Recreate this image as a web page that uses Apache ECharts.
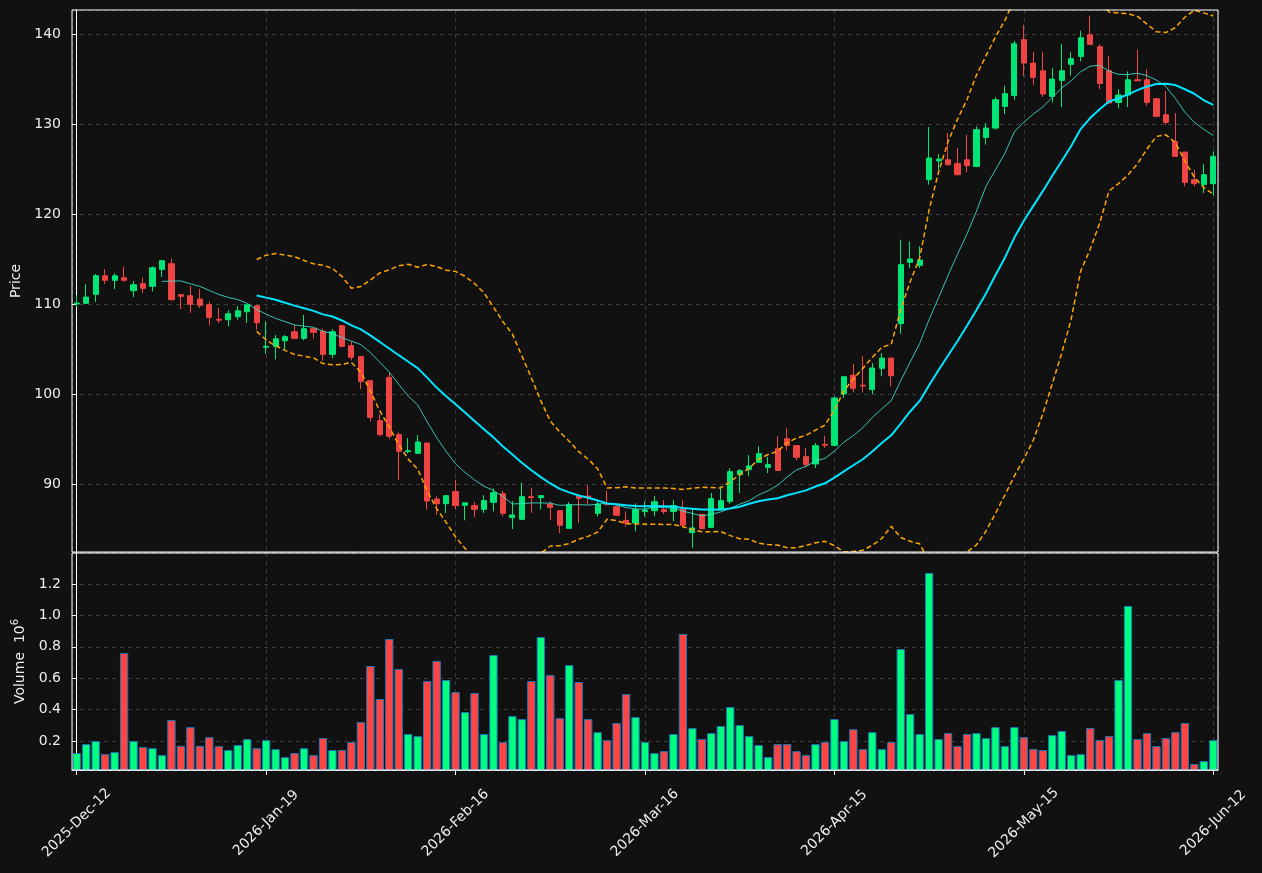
<!DOCTYPE html>
<html>
<head>
<meta charset="utf-8">
<title>Price and Volume</title>
<script src="https://cdn.jsdelivr.net/npm/echarts@6/dist/echarts.min.js"></script>
<style>
    html, body { margin: 0; padding: 0; background: #111111; }
    #market-chart { width: 1262px; height: 873px; }
</style>
</head>
<body>
<div id="market-chart"></div>
<script>
(function (w) {
    "use strict";

    // trading days, grouped by month
    var dayGroups = [
        ['2025-Dec', [12, 15, 16, 17, 18, 19, 22, 23, 29, 30]],
        ['2026-Jan', [5, 6, 7, 8, 9, 12, 13, 14, 15, 16, 19, 20, 21, 22, 23, 26, 27, 28, 29, 30]],
        ['2026-Feb', [2, 3, 4, 5, 6, 9, 10, 11, 12, 13, 16, 17, 18, 19, 20, 23, 24, 25, 26, 27]],
        ['2026-Mar', [2, 3, 4, 5, 6, 9, 10, 11, 12, 13, 16, 17, 18, 19, 20, 23, 24, 25, 26, 27, 30, 31]],
        ['2026-Apr', [1, 2, 7, 8, 9, 10, 13, 14, 15, 16, 17, 20, 21, 22, 23, 24, 27, 28, 29, 30]],
        ['2026-May', [4, 5, 6, 7, 8, 11, 12, 13, 15, 18, 19, 20, 21, 22, 25, 26, 27, 28, 29]],
        ['2026-Jun', [1, 2, 3, 4, 5, 8, 9, 10, 11, 12]]
    ];

    var opens = [
        110.0, 110.07, 111.07, 113.14, 112.63, 112.92, 111.48, 112.26, 111.96, 113.85,
        114.48, 111.03, 110.92, 110.55, 109.92, 108.3, 108.26, 108.59, 109.14, 109.81,
        105.2, 105.29, 105.92, 106.92, 106.18, 107.26, 106.96, 104.4, 107.59, 105.37,
        104.15, 101.48, 97.03, 101.85, 95.48, 93.6, 93.4, 94.55, 88.33, 87.81,
        89.15, 87.63, 87.59, 87.18, 87.96, 88.92, 86.26, 86.07, 88.59, 88.48,
        87.77, 87.03, 85.07, 88.66, 88.66, 86.74, 87.8, 87.48, 85.96, 85.66,
        86.93, 87.03, 87.15, 86.93, 87.22, 84.59, 86.63, 85.18, 87.22, 88.07,
        91.03, 91.6, 92.4, 91.85, 93.92, 95.03, 94.26, 93.03, 92.22, 94.4,
        94.29, 100.0, 102.1, 100.98, 100.48, 102.85, 103.99, 107.81, 114.63, 114.29,
        123.81, 125.9, 126.03, 125.6, 126.03, 125.29, 128.51, 129.55, 131.96, 133.18,
        139.37, 136.77, 135.92, 133.07, 134.85, 136.63, 137.51, 139.92, 138.59, 135.92,
        132.4, 133.22, 134.92, 134.92, 132.81, 131.03, 128.07, 126.88, 123.81, 123.29,
        123.37
    ];
    var highs = [
        110.96, 112.2, 113.33, 113.89, 113.4, 114.14, 112.55, 112.92, 114.18, 114.9,
        115.03, 111.1, 111.99, 111.66, 110.29, 109.55, 109.29, 109.81, 109.92, 109.9,
        108.07, 106.55, 106.55, 107.7, 108.78, 107.3, 107.26, 107.18, 107.6, 105.85,
        104.2, 101.5, 97.7, 102.33, 95.74, 95.1, 95.44, 94.6, 88.63, 88.75,
        90.48, 87.9, 88.0, 88.74, 89.5, 89.26, 88.1, 90.15, 89.59, 88.75,
        88.07, 87.1, 88.0, 88.8, 89.85, 88.07, 89.26, 87.5, 86.96, 87.85,
        88.07, 88.66, 88.2, 88.2, 88.2, 87.15, 86.65, 89.0, 89.74, 91.74,
        91.66, 93.2, 94.2, 93.0, 95.3, 96.2, 94.3, 94.0, 94.55, 95.37,
        99.74, 101.92, 103.33, 104.18, 103.44, 104.55, 104.0, 117.15, 116.96, 116.4,
        129.66, 126.66, 129.0, 127.33, 128.81, 129.74, 130.1, 132.96, 134.25, 139.25,
        141.03, 137.99, 137.99, 136.22, 138.92, 137.99, 140.37, 142.03, 138.88, 137.59,
        133.88, 135.85, 138.26, 136.1, 132.85, 133.63, 131.22, 126.9, 124.92, 125.55,
        126.96
    ];
    var lows = [
        109.66, 110.0, 110.22, 112.22, 111.66, 112.48, 110.77, 111.22, 111.4, 113.0,
        110.4, 109.44, 109.0, 109.55, 107.63, 107.9, 107.51, 108.26, 107.9, 107.14,
        104.48, 103.85, 104.9, 106.1, 105.96, 106.18, 103.7, 104.0, 105.2, 103.74,
        100.55, 96.96, 95.3, 95.0, 90.44, 93.4, 93.4, 87.14, 86.59, 86.77,
        87.2, 85.96, 86.33, 86.78, 86.96, 86.4, 85.0, 86.0, 86.78, 87.15,
        86.0, 84.55, 85.0, 85.66, 87.7, 86.37, 87.7, 86.5, 85.3, 84.74,
        86.4, 86.4, 86.66, 85.85, 85.4, 82.9, 85.0, 85.1, 87.2, 87.8,
        89.0, 90.85, 92.4, 91.2, 91.5, 93.74, 92.63, 91.9, 91.78, 94.0,
        94.2, 99.55, 100.18, 100.18, 100.0, 101.96, 100.85, 106.7, 113.99, 113.99,
        123.26, 124.92, 125.4, 124.3, 124.63, 125.2, 127.7, 129.37, 131.1, 132.7,
        135.29, 134.37, 133.0, 132.4, 131.88, 135.4, 136.96, 138.8, 133.88, 132.3,
        131.74, 131.88, 134.8, 132.03, 130.8, 129.92, 126.4, 123.07, 123.07, 122.33,
        122.07
    ];
    var closes = [
        110.1, 110.77, 113.14, 112.63, 113.14, 112.63, 112.14, 111.74, 114.03, 114.81,
        110.48, 110.85, 109.96, 109.85, 108.51, 108.2, 108.92, 109.25, 109.92, 107.92,
        105.3, 106.14, 106.37, 106.18, 107.26, 106.85, 104.4, 106.92, 105.29, 104.07,
        101.4, 97.4, 95.48, 95.3, 93.63, 93.7, 94.66, 88.11, 87.81, 88.7,
        87.59, 87.9, 87.18, 88.15, 89.03, 86.74, 86.56, 88.59, 88.48, 88.7,
        87.4, 85.41, 87.7, 88.4, 88.55, 87.77, 87.7, 86.52, 85.66, 87.15,
        87.1, 88.03, 86.93, 87.59, 85.41, 85.11, 85.03, 88.37, 88.15, 91.37,
        91.48, 92.0, 93.37, 92.15, 91.5, 94.29, 92.96, 92.15, 94.26, 94.3,
        99.55, 101.92, 100.63, 100.88, 102.89, 103.99, 102.03, 114.37, 115.0, 114.89,
        126.22, 126.1, 125.48, 124.37, 125.37, 129.37, 129.55, 132.7, 133.37, 138.92,
        136.77, 135.18, 133.33, 134.99, 135.92, 137.26, 139.59, 138.85, 134.51, 132.33,
        133.22, 134.92, 134.81, 132.4, 130.85, 130.18, 126.4, 123.51, 123.37, 124.37,
        126.4
    ];
    // volume in millions
    var volumes = [
        0.124, 0.181, 0.2, 0.117, 0.13, 0.761, 0.2, 0.162, 0.155, 0.111,
        0.334, 0.17, 0.289, 0.17, 0.225, 0.168, 0.143, 0.175, 0.213, 0.155,
        0.206, 0.149, 0.098, 0.124, 0.155, 0.111, 0.219, 0.143, 0.143, 0.194,
        0.321, 0.678, 0.468, 0.85, 0.659, 0.245, 0.232, 0.582, 0.71, 0.589,
        0.512, 0.385, 0.506, 0.245, 0.748, 0.194, 0.359, 0.34, 0.582, 0.862,
        0.62, 0.346, 0.684, 0.576, 0.34, 0.257, 0.206, 0.315, 0.499, 0.353,
        0.194, 0.124, 0.136, 0.245, 0.882, 0.283, 0.213, 0.251, 0.296, 0.417,
        0.302, 0.232, 0.175, 0.098, 0.181, 0.181, 0.136, 0.111, 0.181, 0.194,
        0.34, 0.2, 0.276, 0.149, 0.257, 0.149, 0.194, 0.786, 0.372, 0.245,
        1.27, 0.213, 0.251, 0.168, 0.245, 0.251, 0.219, 0.289, 0.168, 0.289,
        0.225, 0.149, 0.143, 0.238, 0.264, 0.111, 0.117, 0.283, 0.206, 0.232,
        0.589, 1.06, 0.213, 0.251, 0.168, 0.219, 0.257, 0.315, 0.054, 0.073,
        0.206
    ];

    var labelEvery = 20;
    var upColor = '#00e676', downColor = '#ef4444';
    var volUpColor = '#00ff7f', volDownColor = '#ff4444';
    var textColor = '#eeeeee';
    var gridLineStyle = { color: '#3a3a3a', type: [4, 4], width: 1 };

    var dates = [];
    dayGroups.forEach(function (g) {
        g[1].forEach(function (d) {
            dates.push(g[0] + '-' + (d < 10 ? '0' + d : d));
        });
    });

    function movingAverage(values, n) {
        var out = [];
        for (var i = 0; i < values.length; i++) {
            if (i < n - 1) { out.push('-'); continue; }
            var s = 0;
            for (var j = i - n + 1; j <= i; j++) s += values[j];
            out.push(+(s / n).toFixed(3));
        }
        return out;
    }

    function bollinger(values, n, k) {
        var mid = movingAverage(values, n), upper = [], lower = [];
        for (var i = 0; i < values.length; i++) {
            if (i < n - 1) { upper.push('-'); lower.push('-'); continue; }
            var ss = 0;
            for (var j = i - n + 1; j <= i; j++) ss += Math.pow(values[j] - mid[i], 2);
            var sd = Math.sqrt(ss / (n - 1));
            upper.push(+(mid[i] + k * sd).toFixed(3));
            lower.push(+(mid[i] - k * sd).toFixed(3));
        }
        return { upper: upper, lower: lower };
    }

    var candles = dates.map(function (d, i) {
        return [opens[i], closes[i], lows[i], highs[i]];
    });
    var volumeBars = volumes.map(function (v, i) {
        return { value: v, itemStyle: { color: closes[i] >= opens[i] ? volUpColor : volDownColor } };
    });
    var ma10 = movingAverage(closes, 10);
    var ma20 = movingAverage(closes, 20);
    var bands = bollinger(closes, 20, 2);

    var everyNth = function (idx) { return idx % labelEvery === 0; };

    function gridOverlayAxis(gridIndex) {
        // hidden value axis only used for the vertical grid lines at the labelled days
        return {
            type: 'value', gridIndex: gridIndex,
            min: -0.5, max: dates.length - 0.5, splitNumber: 6,
            axisLine: { show: false }, axisTick: { show: false }, axisLabel: { show: false },
            splitLine: { show: true, lineStyle: gridLineStyle }
        };
    }

    var chart = echarts.init(document.getElementById('market-chart'));
    var option = {
        backgroundColor: '#111111',
        animation: false,
        textStyle: { fontFamily: 'DejaVu Sans' },
        grid: [
            { left: 72, right: 44, top: 10, height: 542, show: true, z: 5, borderColor: '#ffffff', borderWidth: 1, outerBoundsMode: 'none' },
            { left: 72, right: 44, top: 553, height: 217, show: true, z: 5, borderColor: '#ffffff', borderWidth: 1, outerBoundsMode: 'none' }
        ],
        xAxis: [
            {
                type: 'category', gridIndex: 0, data: dates, boundaryGap: true,
                axisLine: { show: false }, axisTick: { show: false }, axisLabel: { show: false },
                splitLine: { show: false }
            },
            {
                type: 'category', gridIndex: 1, data: dates, boundaryGap: true,
                axisLine: { show: true, lineStyle: { color: '#ffffff' } },
                axisTick: { show: true, alignWithLabel: true, interval: everyNth, length: 5, lineStyle: { color: '#ffffff' } },
                axisLabel: {
                    interval: everyNth, rotate: 45, align: 'center', verticalAlign: 'middle',
                    margin: 53, color: textColor, fontSize: 14, fontFamily: 'DejaVu Sans'
                },
                splitLine: { show: false }
            },
            gridOverlayAxis(0),
            gridOverlayAxis(1)
        ],
        yAxis: [
            {
                type: 'value', gridIndex: 0, min: 82.44, max: 142.67, splitNumber: 6,
                name: 'Price', nameLocation: 'middle', nameGap: 46, nameRotate: 90,
                nameTextStyle: { color: textColor, fontSize: 14, fontFamily: 'DejaVu Sans' },
                axisLine: { show: true, lineStyle: { color: '#ffffff' } },
                axisTick: { show: true, length: 5, lineStyle: { color: '#ffffff' } },
                axisLabel: { showMinLabel: false, showMaxLabel: false, color: textColor, fontSize: 14, margin: 11, fontFamily: 'DejaVu Sans' },
                splitLine: { show: true, lineStyle: gridLineStyle }
            },
            {
                type: 'value', gridIndex: 1, min: 0.0163, max: 1.397, splitNumber: 7,
                name: '{b|Volume  10}{sup|6}', nameLocation: 'middle', nameGap: 41, nameRotate: 90,
                nameTextStyle: {
                    color: textColor, fontFamily: 'DejaVu Sans',
                    rich: {
                        b: { color: textColor, fontSize: 14, lineHeight: 20, fontFamily: 'DejaVu Sans' },
                        sup: { color: textColor, fontSize: 10, lineHeight: 12, verticalAlign: 'top', fontFamily: 'DejaVu Sans' }
                    }
                },
                axisLine: { show: true, lineStyle: { color: '#ffffff' } },
                axisTick: { show: true, length: 5, lineStyle: { color: '#ffffff' } },
                axisLabel: {
                    showMinLabel: false, showMaxLabel: false, color: textColor, fontSize: 14, margin: 11,
                    fontFamily: 'DejaVu Sans',
                    formatter: function (v) { return v.toFixed(1); }
                },
                splitLine: { show: true, lineStyle: gridLineStyle }
            }
        ],
        series: [
            {
                name: 'Price', type: 'candlestick', xAxisIndex: 0, yAxisIndex: 0,
                barWidth: '60%', data: candles,
                itemStyle: { color: upColor, color0: downColor, borderColor: upColor, borderColor0: downColor, borderWidth: 1 }
            },
            {
                name: 'MA10', type: 'line', xAxisIndex: 0, yAxisIndex: 0, data: ma10,
                showSymbol: false, symbol: 'none',
                lineStyle: { color: '#40e0d0', width: 1, opacity: 0.85 }
            },
            {
                name: 'MA20', type: 'line', xAxisIndex: 0, yAxisIndex: 0, data: ma20,
                showSymbol: false, symbol: 'none',
                lineStyle: { color: '#00e5ff', width: 2 }
            },
            {
                name: 'BB Upper', type: 'line', xAxisIndex: 0, yAxisIndex: 0, data: bands.upper,
                showSymbol: false, symbol: 'none', clip: true,
                lineStyle: { color: '#ffa500', width: 1.5, type: [5, 3] }
            },
            {
                name: 'BB Lower', type: 'line', xAxisIndex: 0, yAxisIndex: 0, data: bands.lower,
                showSymbol: false, symbol: 'none', clip: true,
                lineStyle: { color: '#ffa500', width: 1.5, type: [5, 3] }
            },
            {
                name: 'Volume', type: 'bar', xAxisIndex: 1, yAxisIndex: 1, data: volumeBars,
                barWidth: '88%', clip: true,
                itemStyle: { borderColor: '#1f77b4', borderWidth: 1 }
            }
        ]
    };
    chart.setOption(option);

    w.addEventListener('resize', function () {
        chart.resize();
    });
})(window);
</script>
</body>
</html>
